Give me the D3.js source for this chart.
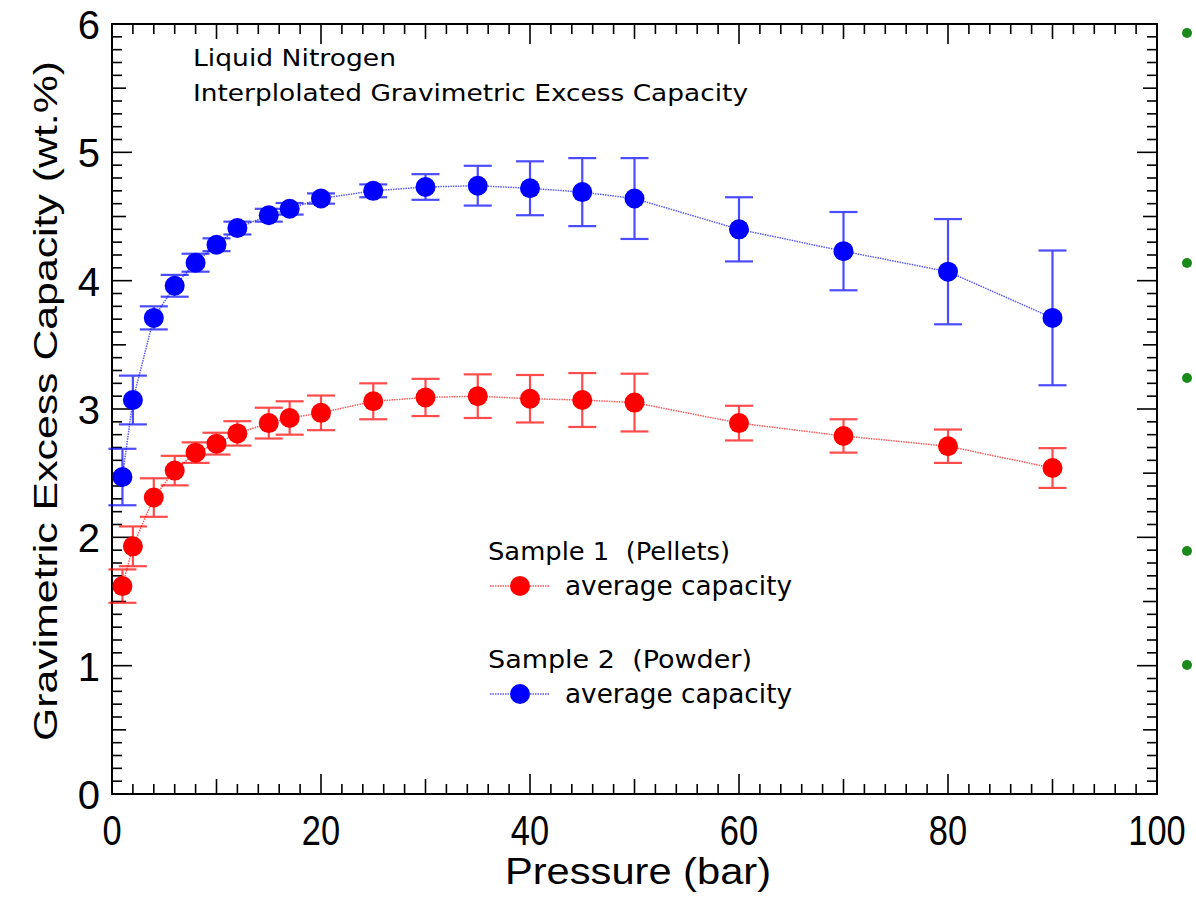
<!DOCTYPE html>
<html>
<head>
<meta charset="utf-8">
<script src="https://cdn.jsdelivr.net/npm/d3@7"></script>
<style>
  html, body { margin: 0; padding: 0; background: #fff; }
  svg { display: block; }
  text { white-space: pre; }
</style>
</head>
<body>
<svg id="chart" width="1196" height="908"></svg>
<script>
// ---- data ----
const pressure = [1, 2, 4, 6, 8, 10, 12, 15, 17, 20, 25, 30, 35, 40, 45, 50, 60, 70, 80, 90];
const pelletsCap = [1.62, 1.93, 2.31, 2.52, 2.66, 2.73, 2.81, 2.89, 2.93, 2.97, 3.06, 3.09, 3.10, 3.08, 3.07, 3.05, 2.89, 2.79, 2.71, 2.54];
const pelletsErr = [0.13, 0.155, 0.15, 0.115, 0.08, 0.085, 0.095, 0.12, 0.13, 0.135, 0.14, 0.145, 0.17, 0.185, 0.21, 0.225, 0.135, 0.13, 0.13, 0.155];
const powderCap = [2.47, 3.07, 3.71, 3.96, 4.14, 4.28, 4.41, 4.51, 4.56, 4.64, 4.70, 4.73, 4.74, 4.72, 4.69, 4.64, 4.40, 4.23, 4.07, 3.71];
const powderErr = [0.22, 0.19, 0.09, 0.085, 0.07, 0.05, 0.05, 0.05, 0.045, 0.04, 0.05, 0.10, 0.155, 0.21, 0.265, 0.315, 0.25, 0.305, 0.41, 0.525];
const xTickLabels = [0, 20, 40, 60, 80, 100];
const yTickLabels = [0, 1, 2, 3, 4, 5, 6];
const seriesNames = ["Sample 1  (Pellets)", "Sample 2  (Powder)"];
const seriesColors = ["#ff0000", "#0000ff"];
const titleLines = ["Liquid Nitrogen", "Interplolated Gravimetric Excess Capacity"];

// ---- layout ----
const svg = d3.select("#chart");
const L = 112, R = 1157, T = 24, B = 794;
const x = d3.scaleLinear().domain([0, 100]).range([L, R]);
const y = d3.scaleLinear().domain([0, 6]).range([B, T]);

const axisFont = "'Liberation Sans', Arial, sans-serif";
const textFont = "'DejaVu Sans', Verdana, sans-serif";

// frame
svg.append("rect").attr("x", L).attr("y", T).attr("width", R - L).attr("height", B - T)
  .attr("fill", "none").attr("stroke", "#000").attr("stroke-width", 2);

// ticks (inward) on all four sides
const xTicks = d3.range(0, 101, 2);
const yTicks = d3.range(0, 61, 1).map(d => d / 10);
function xLen(v) { return v % 20 === 0 ? 20 : (v % 10 === 0 ? 15 : 10); }
function yLen(v) { const t = Math.round(v * 10); return t % 10 === 0 ? 20 : (t % 5 === 0 ? 14 : 10); }

const tg = svg.append("g").attr("stroke", "#000").attr("stroke-width", 1.6);
xTicks.forEach(v => {
  tg.append("line").attr("x1", x(v)).attr("x2", x(v)).attr("y1", B).attr("y2", B - xLen(v));
  tg.append("line").attr("x1", x(v)).attr("x2", x(v)).attr("y1", T).attr("y2", T + xLen(v));
});
yTicks.forEach(v => {
  tg.append("line").attr("x1", L).attr("x2", L + yLen(v)).attr("y1", y(v)).attr("y2", y(v));
  tg.append("line").attr("x1", R).attr("x2", R - yLen(v)).attr("y1", y(v)).attr("y2", y(v));
});

// tick labels
svg.append("g").selectAll("text").data(xTickLabels).join("text")
  .attr("x", d => x(d)).attr("y", 845)
  .attr("text-anchor", "middle")
  .attr("font-family", axisFont).attr("font-size", 42)
  .attr("transform", d => `translate(${x(d)},0) scale(0.82,1) translate(${-x(d)},0)`)
  .text(d => d);
svg.append("g").selectAll("text").data(yTickLabels).join("text")
  .attr("x", 100).attr("y", d => y(d) + 15)
  .attr("text-anchor", "end")
  .attr("font-family", axisFont).attr("font-size", 40)
  .text(d => d);

// axis titles
svg.append("text").attr("x", 638).attr("y", 884).attr("text-anchor", "middle")
  .attr("font-family", axisFont).attr("font-size", 37)
  .attr("textLength", 266).attr("lengthAdjust", "spacingAndGlyphs")
  .text("Pressure (bar)");
svg.append("text").attr("transform", `translate(57,${(T + B) / 2 - 8}) rotate(-90)`)
  .attr("text-anchor", "middle")
  .attr("font-family", axisFont).attr("font-size", 34)
  .attr("textLength", 680).attr("lengthAdjust", "spacingAndGlyphs")
  .text("Gravimetric Excess Capacity (wt.%)");

// title lines
const titleWidths = [203, 555];
svg.append("g").selectAll("text").data(titleLines).join("text")
  .attr("x", 193).attr("y", (d, i) => 66 + i * 35)
  .attr("font-family", textFont).attr("font-size", 23)
  .attr("textLength", (d, i) => titleWidths[i]).attr("lengthAdjust", "spacingAndGlyphs")
  .text(d => d);

// series
const series = [
  { vals: pelletsCap, errs: pelletsErr, color: seriesColors[0] },
  { vals: powderCap, errs: powderErr, color: seriesColors[1] }
];
const line = d3.line().x(d => x(d[0])).y(d => y(d[1]));
series.forEach(s => {
  const pts = pressure.map((p, i) => [p, s.vals[i], s.errs[i]]);
  const g = svg.append("g");
  g.append("path").datum(pts).attr("d", line)
    .attr("fill", "none").attr("stroke", s.color).attr("stroke-width", 1.5)
    .attr("stroke-dasharray", "1.5,1").attr("opacity", 0.65);
  const eb = g.append("g").attr("stroke", s.color).attr("stroke-width", 2.2).attr("opacity", 0.7);
  pts.forEach(d => {
    eb.append("line").attr("x1", x(d[0])).attr("x2", x(d[0])).attr("y1", y(d[1] - d[2])).attr("y2", y(d[1] + d[2]));
    eb.append("line").attr("x1", x(d[0]) - 14).attr("x2", x(d[0]) + 14).attr("y1", y(d[1] - d[2])).attr("y2", y(d[1] - d[2]));
    eb.append("line").attr("x1", x(d[0]) - 14).attr("x2", x(d[0]) + 14).attr("y1", y(d[1] + d[2])).attr("y2", y(d[1] + d[2]));
  });
  g.append("g").selectAll("circle").data(pts).join("circle")
    .attr("cx", d => x(d[0])).attr("cy", d => y(d[1])).attr("r", 10)
    .attr("fill", s.color);
});

// legend
const legY = [560, 668];
const legNameWidths = [242, 264];
seriesNames.forEach((name, i) => {
  const g = svg.append("g");
  g.append("text").attr("x", 488).attr("y", legY[i])
    .attr("font-family", textFont).attr("font-size", 24)
    .attr("textLength", legNameWidths[i]).attr("lengthAdjust", "spacingAndGlyphs")
    .text(name);
  const ly = legY[i] + 26;
  g.append("line").attr("x1", 490).attr("x2", 550).attr("y1", ly).attr("y2", ly)
    .attr("stroke", seriesColors[i]).attr("stroke-width", 1.5).attr("stroke-dasharray", "1.5,1").attr("opacity", 0.65);
  g.append("circle").attr("cx", 520).attr("cy", ly).attr("r", 10).attr("fill", seriesColors[i]);
  g.append("text").attr("x", 565).attr("y", ly + 9)
    .attr("font-family", textFont).attr("font-size", 26)
    .attr("textLength", 227).attr("lengthAdjust", "spacingAndGlyphs")
    .text("average capacity");
});

// decorative slide bullets at the right edge (not data)
svg.append("g").attr("fill", "#1a8a1a").selectAll("circle")
  .data([33, 263, 378, 551, 665]).join("circle")
  .attr("cx", 1187).attr("cy", d => d).attr("r", 5);
</script>
</body>
</html>
